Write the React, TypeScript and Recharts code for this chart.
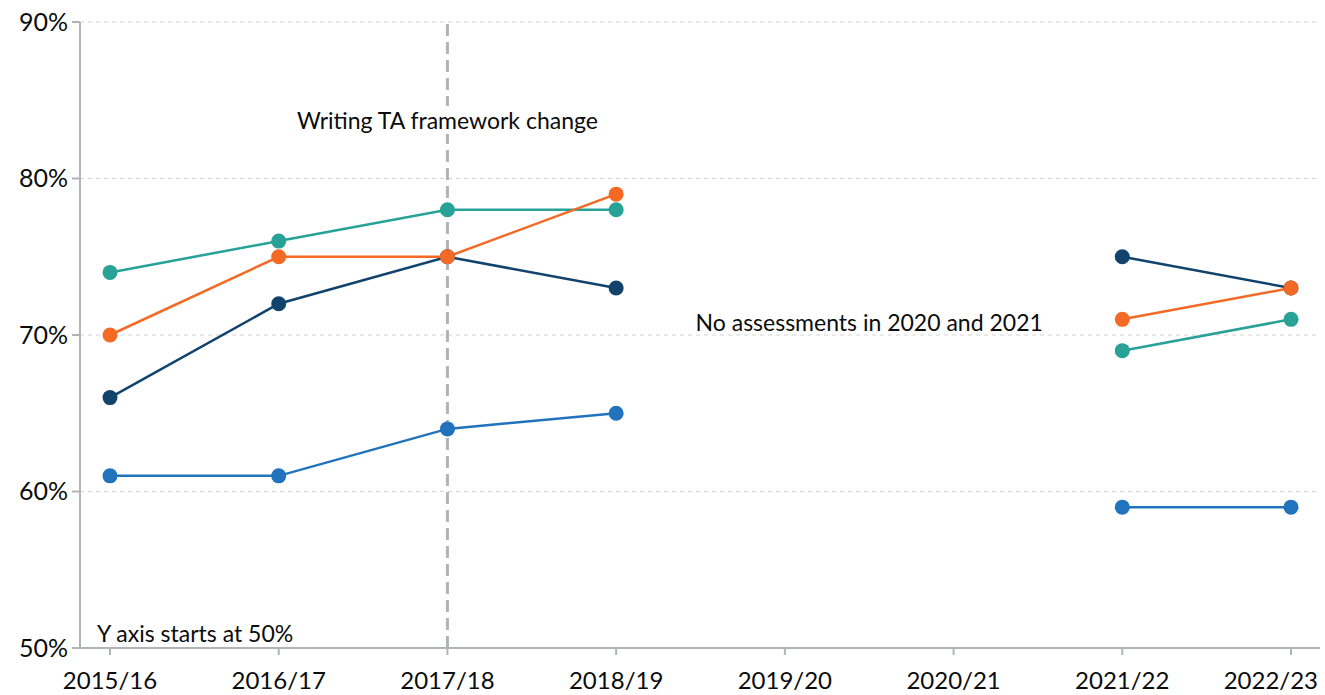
import React from 'react';
import { LineChart, Line, XAxis, YAxis, CartesianGrid, ReferenceLine, ReferenceArea } from 'recharts';

const years = ['2015/16', '2016/17', '2017/18', '2018/19', '2019/20', '2020/21', '2021/22', '2022/23'];
const navySeries = [66, 72, 75, 73, null, null, 75, 73];
const tealSeries = [74, 76, 78, 78, null, null, 69, 71];
const orangeSeries = [70, 75, 75, 79, null, null, 71, 73];
const blueSeries = [61, 61, 64, 65, null, null, 59, 59];
const yTicks = [50, 60, 70, 80, 90];

const data = years.map((year, i) => ({
  year,
  navy: navySeries[i],
  teal: tealSeries[i],
  orange: orangeSeries[i],
  blue: blueSeries[i],
}));

const FONT = 'Lato, "Noto Sans", sans-serif';
const TEXT = '#0b0c0c';
const AXIS = '#b1b4b6';

const NAVY = '#12436D';
const TEAL = '#28A197';
const ORANGE = '#F46A25';
const BLUE = '#2073BC';

const FrameworkLabel = (props: any) => {
  const vb = props.viewBox || {};
  const cx = vb.x;
  const cy = 120;
  return (
    <g>
      <rect x={cx - 160} y={cy - 14} width={320} height={28} fill="#fff" />
      <text x={cx} y={cy} textAnchor="middle" dominantBaseline="central" fontFamily={FONT} fontSize={23} fill={TEXT}>
        Writing TA framework change
      </text>
    </g>
  );
};

const AxisNote = (props: any) => {
  const vb = props.viewBox || {};
  return (
    <text x={vb.x + 17} y={vb.y - 6} textAnchor="start" fontFamily={FONT} fontSize={23} fill={TEXT}>
      Y axis starts at 50%
    </text>
  );
};

const GapNote = (props: any) => {
  const vb = props.viewBox || {};
  return (
    <text x={vb.x + vb.width / 2} y={322} textAnchor="middle" dominantBaseline="central" fontFamily={FONT} fontSize={23} fill={TEXT}>
      No assessments in 2020 and 2021
    </text>
  );
};

const XTick = (props: any) => {
  const { x, y, payload, index } = props;
  const isLast = index === years.length - 1;
  return (
    <text
      x={isLast ? 1318 : x}
      y={y + 15}
      dy="0.71em"
      textAnchor={isLast ? 'end' : 'middle'}
      fontFamily={FONT}
      fontSize={24}
      fill={TEXT}
    >
      {payload.value}
    </text>
  );
};

const lineProps = (color: string) => ({
  stroke: color,
  strokeWidth: 2.5,
  dot: { r: 7.5, fill: color, stroke: color, strokeWidth: 0 },
  activeDot: false as any,
  isAnimationActive: false,
  connectNulls: false,
  type: 'linear' as const,
});

export default function App() {
  return (
    <div style={{ position: 'absolute', left: 0, top: 0, background: '#fff' }}>
      <LineChart width={1325} height={695} data={data} margin={{ top: 22, right: 5, left: 0, bottom: 7 }}>
        <CartesianGrid vertical={false} stroke="#d3d3d3" strokeDasharray="4 4" strokeWidth={1.2} />
        <XAxis
          dataKey="year"
          padding={{ left: 30, right: 29 }}
          stroke={AXIS}
          strokeWidth={2}
          tickSize={7}
          tick={<XTick />}
          height={40}
          interval={0}
        />
        <YAxis
          domain={[50, 90]}
          ticks={yTicks}
          tickFormatter={(v: number) => `${v}%`}
          stroke={AXIS}
          strokeWidth={2}
          tickSize={8}
          tickMargin={4}
          tick={{ fill: TEXT, fontSize: 25, fontFamily: FONT }}
          width={80}
          interval={0}
        />
        <ReferenceLine y={50} stroke="none" label={<AxisNote />} />
        <ReferenceArea x1="2019/20" x2="2020/21" y1={70.5} y2={71.2} fillOpacity={0} strokeOpacity={0} label={<GapNote />} />
        <Line dataKey="blue" {...lineProps(BLUE)} />
        <Line dataKey="navy" {...lineProps(NAVY)} />
        <Line dataKey="teal" {...lineProps(TEAL)} />
        <Line dataKey="orange" {...lineProps(ORANGE)} />
        <ReferenceLine x="2017/18" stroke={AXIS} strokeWidth={3} strokeDasharray="12 6" label={<FrameworkLabel />} />
      </LineChart>
    </div>
  );
}
